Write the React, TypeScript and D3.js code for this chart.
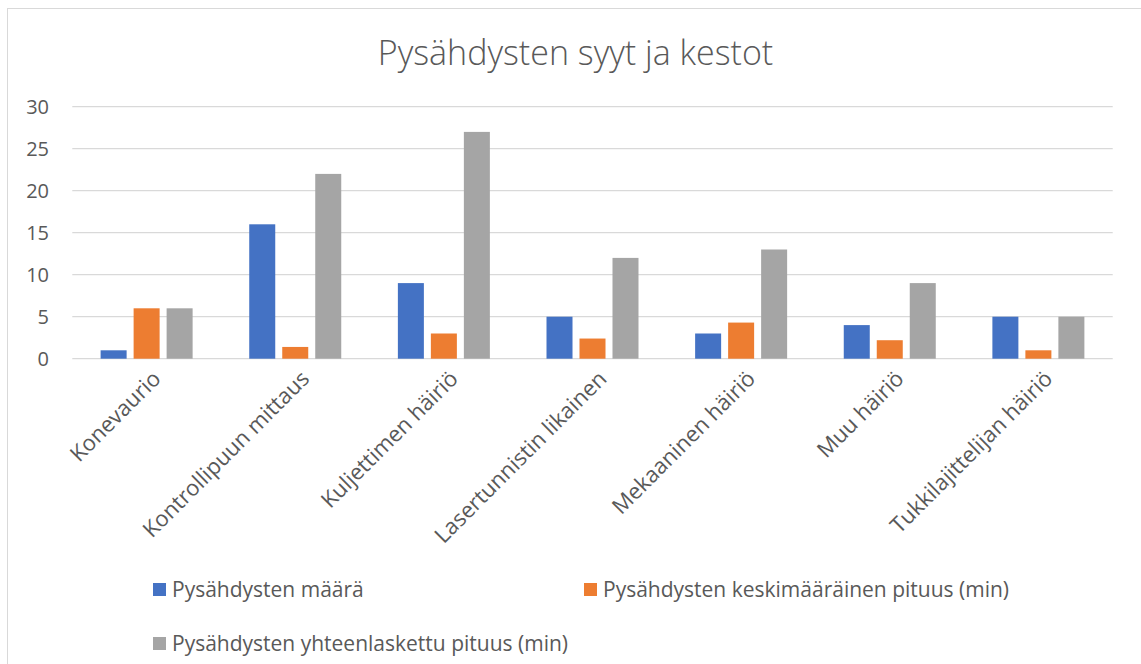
import React, { useEffect, useRef } from 'react';
import * as d3 from 'd3';

// Chart data
const categories = [
  'Konevaurio',
  'Kontrollipuun mittaus',
  'Kuljettimen häiriö',
  'Lasertunnistin likainen',
  'Mekaaninen häiriö',
  'Muu häiriö',
  'Tukkilajittelijan häiriö',
];
const seriesNames = [
  'Pysähdysten määrä',
  'Pysähdysten keskimääräinen pituus (min)',
  'Pysähdysten yhteenlaskettu pituus (min)',
];
const countValues = [1, 16, 9, 5, 3, 4, 5];
const avgValues = [6, 1.4, 3, 2.4, 4.3, 2.2, 1];
const totalValues = [6, 22, 27, 12, 13, 9, 5];
const yTicks = [0, 5, 10, 15, 20, 25, 30];
const title = 'Pysähdysten syyt ja kestot';

const colors = ['#4472C4', '#ED7D31', '#A5A5A5'];

const App: React.FC = () => {
  const svgRef = useRef<SVGSVGElement>(null);
  const width = 1141;
  const height = 664;

  useEffect(() => {
    if (!svgRef.current) return;
    const svg = d3.select(svgRef.current);
    svg.selectAll('*').remove();

    const font = "'Open Sans', 'Segoe UI', sans-serif";
    const textColor = '#595959';

    // chart border
    svg.append('rect')
      .attr('x', 7.5).attr('y', 8.5)
      .attr('width', width).attr('height', height)
      .attr('fill', '#fff')
      .attr('stroke', '#d9d9d9');

    // title
    svg.append('text')
      .attr('x', 575.5).attr('y', 65)
      .attr('text-anchor', 'middle')
      .style('font-family', font)
      .style('font-weight', 300)
      .style('font-size', '34px')
      .style('fill', textColor)
      .text(title);

    const plot = { left: 72.3, right: 1112.7, top: 106.7, bottom: 358.7 };

    const x0 = d3.scaleBand<string>()
      .domain(categories)
      .range([plot.left, plot.right])
      .paddingInner(0.381)
      .paddingOuter(0.1905);

    const x1 = d3.scaleBand<number>()
      .domain([0, 1, 2])
      .range([0, x0.bandwidth()])
      .paddingInner(0.212)
      .paddingOuter(0);

    const y = d3.scaleLinear().domain([0, 30]).range([plot.bottom, plot.top]);

    // gridlines
    svg.append('g')
      .selectAll('line')
      .data(yTicks)
      .enter().append('line')
      .attr('x1', plot.left).attr('x2', plot.right)
      .attr('y1', d => y(d)).attr('y2', d => y(d))
      .attr('stroke', '#d9d9d9')
      .attr('stroke-width', 1.3);

    // y labels
    svg.append('g')
      .selectAll('text')
      .data(yTicks)
      .enter().append('text')
      .attr('x', 49)
      .attr('y', d => y(d))
      .attr('dy', '0.36em')
      .attr('text-anchor', 'end')
      .style('font-family', font)
      .style('font-size', '20px')
      .style('fill', textColor)
      .text(d => d);

    const series = [countValues, avgValues, totalValues];

    // bars
    series.forEach((vals, si) => {
      svg.append('g')
        .selectAll('rect')
        .data(vals)
        .enter().append('rect')
        .attr('x', (_, i) => x0(categories[i])! + x1(si)!)
        .attr('width', x1.bandwidth())
        .attr('y', d => y(d))
        .attr('height', d => y(0) - y(d))
        .attr('fill', colors[si]);
    });

    // category labels
    svg.append('g')
      .selectAll('text')
      .data(categories)
      .enter().append('text')
      .attr('transform', d => `translate(${x0(d)! + x0.bandwidth() / 2 + 10},${plot.bottom + 16}) rotate(-45)`)
      .attr('text-anchor', 'end')
      .attr('dy', '0.35em')
      .style('font-family', font)
      .style('font-size', '22px')
      .style('fill', textColor)
      .text(d => d);

    // legend
    const legendItems = [
      { name: seriesNames[0], color: colors[0], x: 153, y: 590 },
      { name: seriesNames[1], color: colors[1], x: 584, y: 590 },
      { name: seriesNames[2], color: colors[2], x: 153, y: 644 },
    ];
    const lg = svg.append('g')
      .selectAll('g')
      .data(legendItems)
      .enter().append('g')
      .attr('transform', d => `translate(${d.x},${d.y})`);
    lg.append('rect')
      .attr('x', 0).attr('y', -7)
      .attr('width', 13).attr('height', 13)
      .attr('fill', d => d.color);
    lg.append('text')
      .attr('x', 19).attr('y', 0)
      .attr('dy', '0.35em')
      .style('font-family', font)
      .style('font-size', '21px')
      .style('fill', textColor)
      .text(d => d.name);
  }, []);

  return (
    <svg
      ref={svgRef}
      width={width}
      height={height}
      style={{ position: 'absolute', left: 0, top: 0, display: 'block', background: '#fff' }}
    />
  );
};

export default App;
